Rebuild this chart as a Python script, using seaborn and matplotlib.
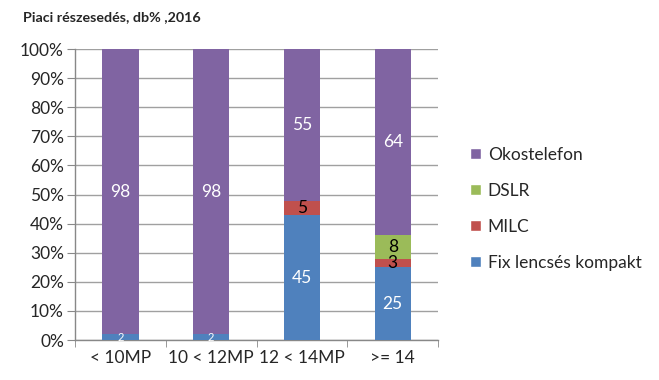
import matplotlib
matplotlib.use("Agg")
import matplotlib.pyplot as plt
import matplotlib.patches as mpatches
import seaborn as sns
import numpy as np
import pandas as pd

categories = ["< 10MP", "10 < 12MP", "12 < 14MP", ">= 14"]
fix_kompakt = [2, 2, 45, 25]
milc = [0, 0, 5, 3]
dslr = [0, 0, 0, 8]
okostelefon = [98, 98, 55, 64]

series_names = ["Fix lencsés kompakt", "MILC", "DSLR", "Okostelefon"]
colors = ["#4F81BD", "#C0504D", "#9BBB59", "#8064A2"]
label_colors = ["white", "black", "black", "white"]

sns.set_style("white")
plt.rcParams["font.family"] = ["Lato", "DejaVu Sans"]

df = pd.DataFrame({"kat": categories,
                   series_names[0]: fix_kompakt, series_names[1]: milc,
                   series_names[2]: dslr, series_names[3]: okostelefon})
vals = df[series_names].to_numpy(dtype=float)
pct = vals / vals.sum(axis=1, keepdims=True) * 100

fig = plt.figure(figsize=(6.59, 3.80), dpi=100)
ax = fig.add_axes([0.1138, 0.105, 0.551, 0.766])

bottom = np.zeros(len(categories))
for j, name in enumerate(series_names):
    sns.barplot(x=df["kat"], y=pct[:, j], bottom=bottom, color=colors[j],
                width=0.4, ax=ax, saturation=1, zorder=3, linewidth=0)
    for i in range(len(categories)):
        if vals[i, j] > 0:
            fs = 8 if vals[i, j] < 3 else 12.5
            ax.text(i, bottom[i] + pct[i, j] / 2, f"{int(vals[i, j])}",
                    ha="center", va="center", fontsize=fs,
                    color=label_colors[j], zorder=4)
    bottom += pct[:, j]

ax.set_xlim(-0.5, 3.5)
ax.set_ylim(0, 100)
ax.set_yticks(np.arange(0, 101, 10))
ax.set_yticklabels([f"{v}%" for v in range(0, 101, 10)], fontsize=12.5)
ax.yaxis.grid(True, color="#A0A0A0", linewidth=1, zorder=0)
ax.set_axisbelow(True)
ax.set_xticks(range(len(categories)))
ax.set_xticklabels(categories, fontsize=12.5)
ax.set_xticks(np.arange(-0.5, 3.6, 1), minor=True)
ax.tick_params(axis="x", which="major", length=0, pad=7)
ax.tick_params(axis="x", which="minor", length=5, color="#888888", direction="out", bottom=True)
ax.tick_params(axis="y", length=6, color="#888888", direction="out", left=True, pad=2)
ax.set_xlabel("")
ax.set_ylabel("")
for s in ["top", "right"]:
    ax.spines[s].set_visible(False)
for s in ["left", "bottom"]:
    ax.spines[s].set_color("#888888")
    ax.spines[s].set_linewidth(1)

fig.text(0.035, 0.955, "Piaci részesedés, db% ,2016", fontsize=10.3,
         fontweight="bold", ha="left", va="center")

handles = [mpatches.Patch(facecolor=colors[j], label=series_names[j])
           for j in [3, 2, 1, 0]]
fig.legend(handles=handles, loc="center left", bbox_to_anchor=(0.69, 0.45),
           frameon=False, fontsize=12.5, handlelength=0.6, handleheight=0.6,
           handletextpad=0.4, labelspacing=1.15)

fig.savefig("out.png", dpi=100)
